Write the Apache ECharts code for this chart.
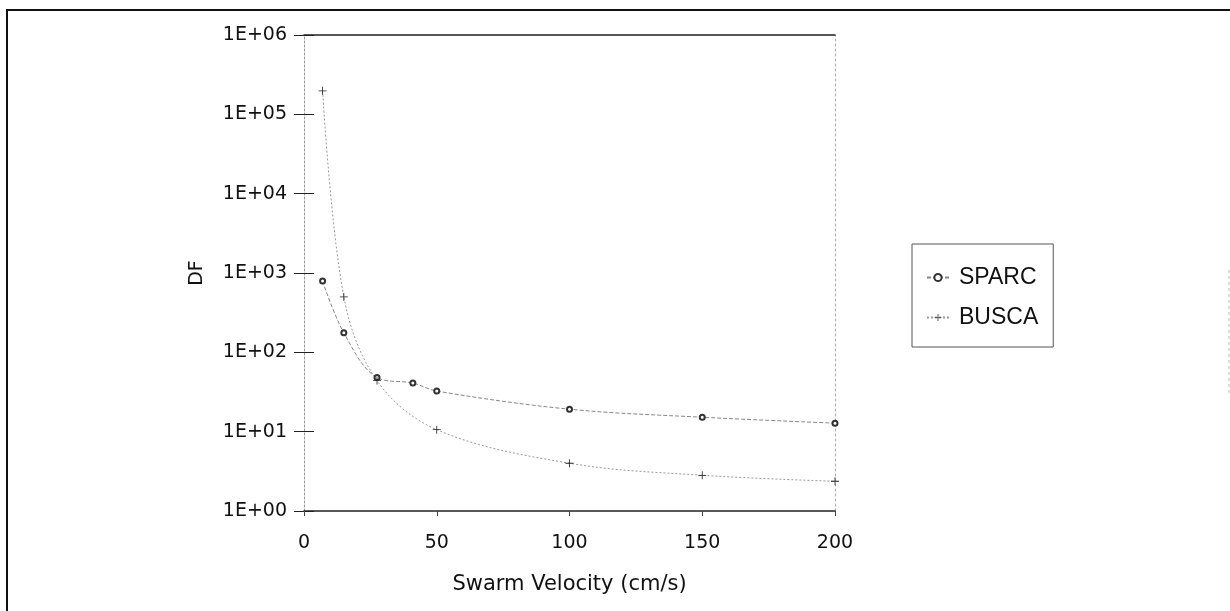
<!DOCTYPE html>
<html>
<head>
<meta charset="utf-8">
<script src="https://cdn.jsdelivr.net/npm/echarts@6/dist/echarts.min.js"></script>
<style>
html,body{margin:0;padding:0;background:#fff;}
#chart{width:1230px;height:611px;}
</style>
</head>
<body>
<div id="chart"></div>
<script>
// Data
var sparcVelocity = [7, 15, 27.5, 41, 50, 100, 150, 200];
var sparcDF       = [790, 176, 48, 41, 32.5, 19.2, 15.2, 12.8];
var buscaVelocity = [7, 15, 27.5, 50, 100, 150, 200];
var buscaDF       = [198000, 500, 44, 10.6, 4.0, 2.82, 2.37];
var seriesNames   = ['SPARC', 'BUSCA'];
var xTitle = 'Swarm Velocity (cm/s)';
var yTitle = 'DF';

function pairs(xs, ys) { return xs.map(function (x, i) { return [x, ys[i]]; }); }
function expLabel(v) {
  var e = Math.round(Math.log(v) / Math.LN10);
  return '1E+' + (e < 10 ? '0' : '') + e;
}

var FONT = 'DejaVu Sans';
var LFONT = 'Liberation Sans';
var chart = echarts.init(document.getElementById('chart'), null, {renderer: 'canvas'});
var plusPath = 'path://M-0.5,-5H0.5V-0.5H5V0.5H0.5V5H-0.5V0.5H-5V-0.5H-0.5Z';

chart.setOption({
  animation: false,
  backgroundColor: '#fff',
  grid: {left: 304, right: 395, top: 35, bottom: 100, containLabel: false},
  xAxis: [{
    type: 'value', min: 0, max: 200, interval: 50, position: 'bottom',
    name: xTitle, nameLocation: 'middle', nameGap: 63,
    nameTextStyle: {fontFamily: FONT, fontSize: 21, color: '#111'},
    axisLine: {show: true, lineStyle: {color: '#222', width: 1.5}},
    axisTick: {show: true, length: 5, lineStyle: {color: '#444'}},
    axisLabel: {fontFamily: FONT, fontSize: 19, color: '#111', margin: 23},
    splitLine: {show: false}
  }, {
    type: 'value', min: 0, max: 200, position: 'top',
    axisLine: {show: true, lineStyle: {color: '#222', width: 1.5}},
    axisTick: {show: false}, axisLabel: {show: false}, splitLine: {show: false}
  }],
  yAxis: [{
    type: 'log', logBase: 10, min: 1, max: 1000000, position: 'left',
    name: yTitle, nameLocation: 'middle', nameGap: 97, nameRotate: 90,
    nameTextStyle: {fontFamily: FONT, fontSize: 19, color: '#111'},
    axisLine: {show: true, lineStyle: {color: '#999', width: 1, type: [2, 2]}},
    axisTick: {show: true, length: 10, lineStyle: {color: '#222', width: 1}},
    axisLabel: {fontFamily: FONT, fontSize: 19, color: '#111', margin: 17, formatter: expLabel},
    splitLine: {show: false}, minorTick: {show: false}
  }, {
    type: 'log', logBase: 10, min: 1, max: 1000000, position: 'left',
    axisLine: {show: false},
    axisTick: {show: true, inside: true, length: 10, lineStyle: {color: '#222', width: 1}},
    axisLabel: {show: false}, splitLine: {show: false}
  }, {
    type: 'log', logBase: 10, min: 1, max: 1000000, position: 'right',
    axisLine: {show: true, lineStyle: {color: '#aaa', width: 1, type: [2, 3]}},
    axisTick: {show: false}, axisLabel: {show: false}, splitLine: {show: false}
  }],
  legend: {
    orient: 'vertical', left: 912, top: 244,
    padding: [22, 15, 18, 14], itemGap: 17, itemWidth: 22, itemHeight: 9,
    borderColor: '#555', borderWidth: 1, backgroundColor: '#fff',
    textStyle: {fontFamily: LFONT, fontSize: 23, color: '#111', padding: [0, 0, 0, 5]},
    data: [seriesNames[0], seriesNames[1]]
  },
  series: [{
    name: seriesNames[0], type: 'line', smooth: 0.35,
    data: pairs(sparcVelocity, sparcDF),
    symbol: 'emptyCircle', symbolSize: 5,
    lineStyle: {color: '#888', width: 1, type: [4, 2]},
    itemStyle: {color: '#333', borderColor: '#333', borderWidth: 1}
  }, {
    name: seriesNames[1], type: 'line', smooth: 0.35,
    data: pairs(buscaVelocity, buscaDF),
    symbol: plusPath, symbolSize: 8,
    lineStyle: {color: '#999', width: 1, type: [2, 2]},
    itemStyle: {color: '#222'}
  }],
  graphic: [{
    type: 'rect', silent: true, z: -1,
    shape: {x: 7, y: 10, width: 1260, height: 650},
    style: {fill: 'none', stroke: '#111', lineWidth: 2}
  }, {
    type: 'line', silent: true,
    shape: {x1: 1229, y1: 270, x2: 1229, y2: 395},
    style: {stroke: '#bbb', lineWidth: 1, lineDash: [3, 3]}
  }]
});
</script>
</body>
</html>
